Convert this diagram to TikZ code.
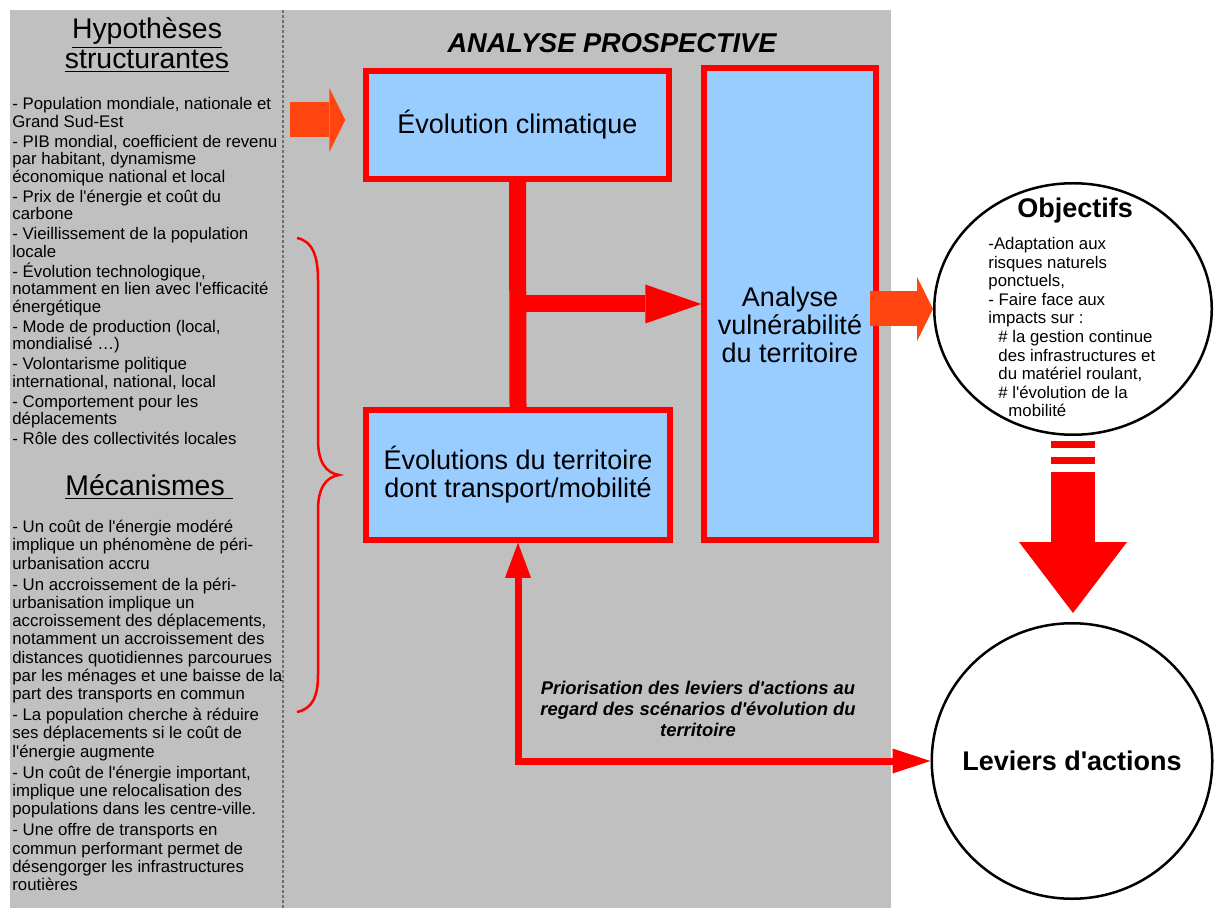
\documentclass[tikz,border=0pt]{standalone}
\usepackage{fontspec}
\setmainfont{Liberation Sans}[Ligatures=TeXOff]
\usetikzlibrary{arrows.meta,shapes.geometric}
\definecolor{fondgris}{RGB}{192,192,192}
\definecolor{bleuclair}{RGB}{153,204,255}
\definecolor{rougevif}{RGB}{255,0,0}
\definecolor{orangevif}{RGB}{255,70,16}
\definecolor{grisfonce}{RGB}{110,110,110}
\newcommand{\petita}{\fontsize{8.4}{8.75}\selectfont}
\newcommand{\petitb}{\fontsize{8.4}{9.1}\selectfont}
\newcommand{\petitc}{\fontsize{8.4}{9.3}\selectfont}
\newcommand{\titre}{\fontsize{14.2}{15}\selectfont}
\newcommand{\boite}{\fontsize{13.5}{14}\selectfont}

\begin{document}
\begin{tikzpicture}[x=0.5pt, y=-0.5pt,
        bluebox/.style={shape=rectangle, fill=bleuclair, draw=rougevif, line width=2.75pt, inner sep=0pt, align=center, font=\boite},
        roundnode/.style={shape=ellipse, draw=black, fill=white, line width=1.25pt, inner sep=0pt},
        listtext/.style={anchor=north west, inner sep=0pt, align=left},
        fatorange/.style={draw=orangevif, line width=17.5pt, -{Triangle[length=8pt, width=32pt, line width=0pt]}},
        fatred/.style={draw=rougevif, line width=8.5pt},
        thinred/.style={draw=rougevif, line width=3.5pt}]
        \useasboundingbox (0,0) rectangle (1214,908);
        % Background
        \fill[fondgris] (10,10) rectangle (891,908);
        \draw[grisfonce, line width=1pt, dash pattern=on 1.5pt off 1pt] (283,10) -- (283,908);
        % Left column
        \node[inner sep=0pt, align=center, font=\titre] (hyptitle) at (147,45) {\underline{Hypothèses}\\\underline{structurantes}};
        \node[listtext, font=\petita] (hyplist) at (12,97) {- Population mondiale, nationale et\\
          Grand Sud-Est\\[1.25pt]
          - PIB mondial, coefficient de revenu\\
          par habitant, dynamisme\\
          économique national et local\\[1.25pt]
          - Prix de l'énergie et coût du\\
          carbone\\[1.25pt]
          - Vieillissement de la population\\
          locale\\[1.25pt]
          - Évolution technologique,\\
          notamment en lien avec l'efficacité\\
          énergétique\\[1.25pt]
          - Mode de production (local,\\
          mondialisé …)\\[1.25pt]
          - Volontarisme politique\\
          international, national, local\\[1.25pt]
          - Comportement pour les\\
          déplacements\\[1.25pt]
          - Rôle des collectivités locales};
        \node[inner sep=0pt, font=\titre] (mectitle) at (149,487) {\underline{Mécanismes\ }};
        \node[listtext, font=\petitb] (meclist) at (12,520) {- Un coût de l'énergie modéré\\
          implique un phénomène de péri-\\
          urbanisation accru\\[1.5pt]
          - Un accroissement de la péri-\\
          urbanisation implique un\\
          accroissement des déplacements,\\
          notamment un accroissement des\\
          distances quotidiennes parcourues\\
          par les ménages et une baisse de la\\
          part des transports en commun\\[1.5pt]
          - La population cherche à réduire\\
          ses déplacements si le coût de\\
          l'énergie augmente\\[1.5pt]
          - Un coût de l'énergie important,\\
          implique une relocalisation des\\
          populations dans les centre-ville.\\[1.5pt]
          - Une offre de transports en\\
          commun performant permet de\\
          désengorger les infrastructures\\
          routières};
        % Brace
        \draw[rougevif, line width=1.25pt] (297,238) .. controls (312,241) and (318,255) .. (318,280) -- (318,440)
          .. controls (318,462) and (326,473) .. (339,475) .. controls (326,477) and (318,488) .. (318,510) -- (318,675)
          .. controls (318,697) and (312,709) .. (297,712);
        % Analyse prospective
        \node[font=\bfseries\itshape\fontsize{13.6}{14}\selectfont, inner sep=0pt] (title) at (612,43) {ANALYSE PROSPECTIVE};
        \node[bluebox, minimum width=151.5pt, minimum height=54pt] (EC) at (517.5,125) {Évolution climatique};
        \node[bluebox, minimum width=86pt, minimum height=236pt,
          label={[align=center, font=\boite, yshift=-10.5pt]center:Analyse\\vulnérabilité\\du territoire}] (VT) at (790,304) {};
        \node[bluebox, minimum width=152pt, minimum height=65pt] (ET) at (518,475) {Évolutions du territoire\\dont transport/mobilité};
        % Circles
        \node[roundnode, minimum width=138.75pt, minimum height=125.75pt] (OBJ) at (1073,309) {};
        \node[roundnode, minimum width=140.25pt, minimum height=137.75pt,
          label={[font=\bfseries\boite]center:Leviers d'actions}] (LEV) at (1072,761) {};
        \node[font=\bfseries\boite, inner sep=0pt] (objtitle) at (1075,211) {Objectifs};
        \node[listtext, font=\petitc] (objtext) at (988,237) {-Adaptation aux\\
          risques naturels\\
          ponctuels,\\
          - Faire face aux\\
          impacts sur :\\
          \hspace*{5pt}\# la gestion continue\\
          \hspace*{5pt}des infrastructures et\\
          \hspace*{5pt}du matériel roulant,\\
          \hspace*{5pt}\# l'évolution de la\\
          \hspace*{10pt}mobilité};
        % Arrows
        \coordinate (hyp) at (290,120);
        \draw[fatorange, shorten >=9pt] (hyp) -- (hyp -| EC.west);
        \draw[fatorange] ([xshift=-4.5pt]VT.east |- OBJ.west) -- (OBJ.west);
        \draw[fatred] (EC.south) -- (ET.north);
        \draw[fatred, -{Triangle[length=28pt, width=19.5pt, line width=0pt]}] (EC.south |- VT.west) -- (VT.west);
        \draw[rougevif, line width=22pt, dash pattern=on 0pt off 2.5pt on 3.5pt off 4.5pt on 3.5pt off 4pt on 300pt off 10pt,
          -{Triangle[length=35.5pt, width=54pt, line width=0pt]}, shorten >=4.5pt] (OBJ.south) -- (OBJ.south |- LEV.north);
        \draw[thinred, {Triangle[length=17.5pt, width=13pt, line width=0pt]}-{Triangle[length=19pt, width=12.5pt, line width=0pt]}] (ET.south) |- (LEV.west);
        \node[font=\bfseries\itshape\fontsize{9.2}{10.4}\selectfont, align=center, inner sep=0pt] (prio) at (698,709) {Priorisation des leviers d'actions au\\regard des scénarios d'évolution du\\territoire};
\end{tikzpicture}
\end{document}
